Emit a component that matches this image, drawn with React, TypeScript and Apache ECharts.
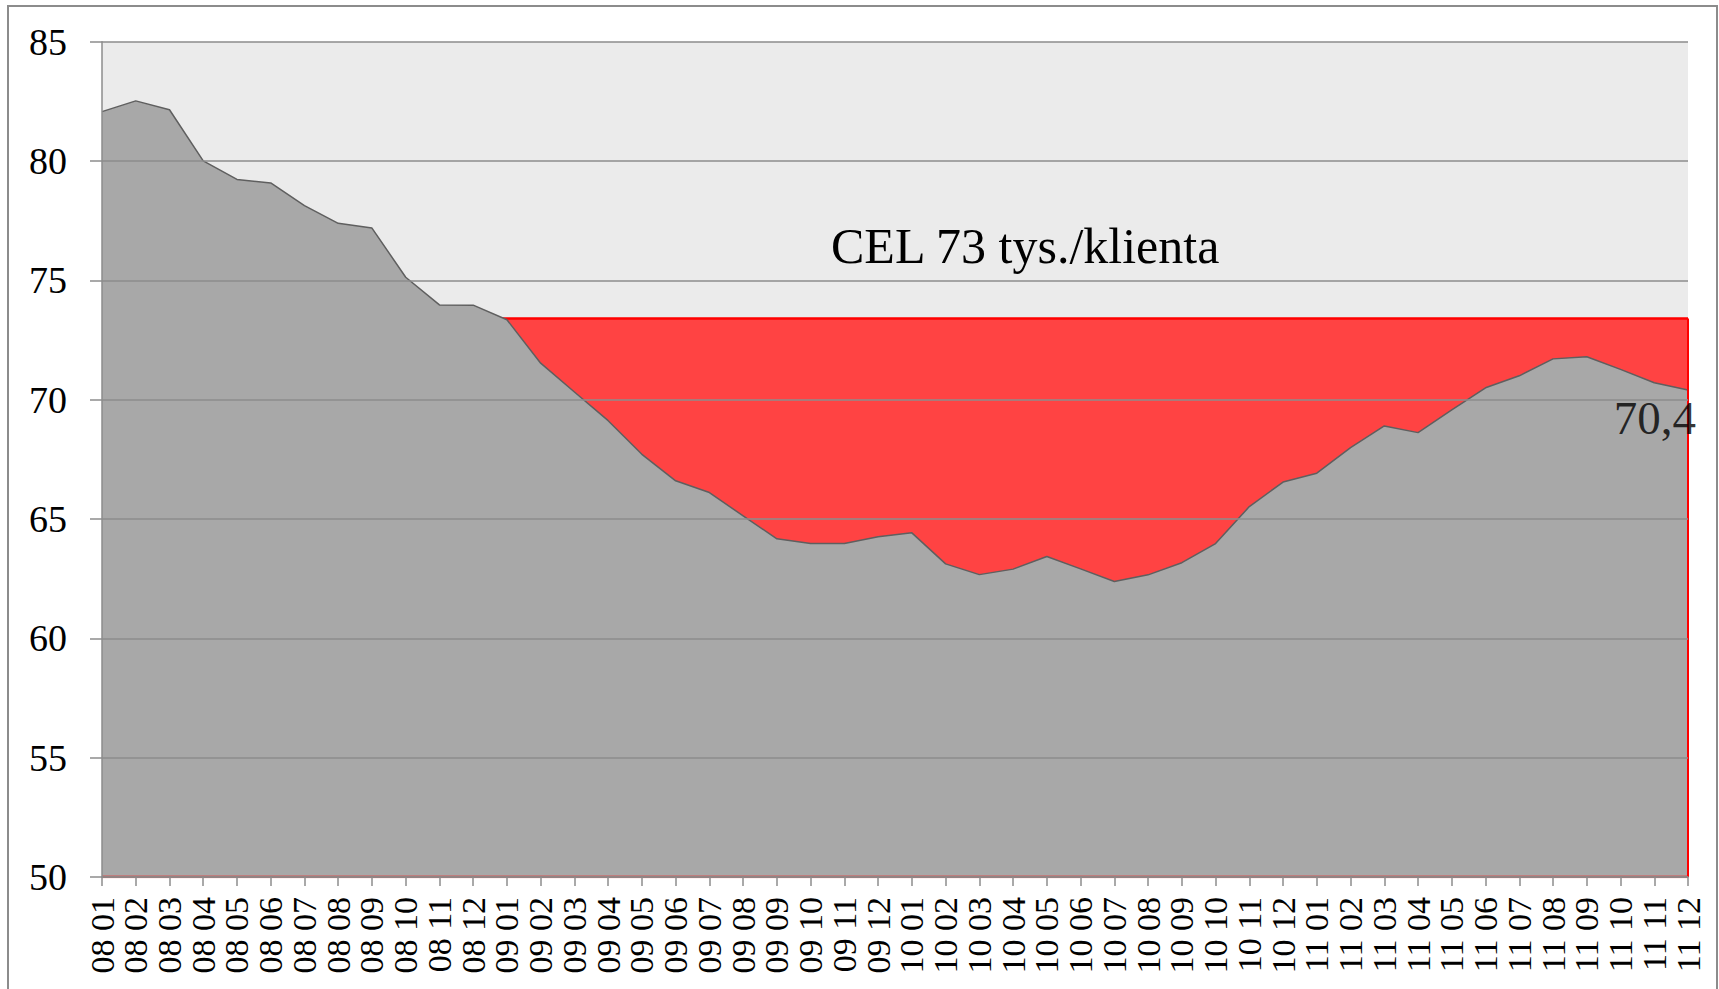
import React, { useEffect, useRef } from "react";
import * as echarts from "echarts";

const categories: string[] = [
  "08 01", "08 02", "08 03", "08 04", "08 05", "08 06", "08 07", "08 08", "08 09", "08 10", "08 11", "08 12",
  "09 01", "09 02", "09 03", "09 04", "09 05", "09 06", "09 07", "09 08", "09 09", "09 10", "09 11", "09 12",
  "10 01", "10 02", "10 03", "10 04", "10 05", "10 06", "10 07", "10 08", "10 09", "10 10", "10 11", "10 12",
  "11 01", "11 02", "11 03", "11 04", "11 05", "11 06", "11 07", "11 08", "11 09", "11 10", "11 11", "11 12",
];

const values: number[] = [
  82.07, 82.52, 82.15, 80.01, 79.23, 79.08, 78.13, 77.39, 77.19, 75.13, 73.97, 73.96,
  73.35, 71.53, 70.32, 69.12, 67.71, 66.6, 66.11, 65.13, 64.17, 63.97, 63.97, 64.26,
  64.42, 63.12, 62.67, 62.9, 63.43, 62.91, 62.38, 62.66, 63.17, 63.97, 65.52, 66.55,
  66.92, 67.99, 68.9, 68.62, 69.57, 70.5, 71.0, 71.71, 71.8, 71.27, 70.71, 70.41,
];

const targetValue = 73.4;
const targetLabel = "CEL 73 tys./klienta";
const yMin = 50;
const yMax = 85;
const yInterval = 5;

const FONT = "'Liberation Serif', 'Times New Roman', serif";

export default function App() {
  const ref = useRef<HTMLDivElement>(null);

  useEffect(() => {
    if (!ref.current) return;
    const chart = echarts.init(ref.current, undefined, { renderer: "svg" });
    const lastIdx = categories.length - 1;
    const targetData = categories.map(() => targetValue);
    const baseData = categories.map(() => yMin);

    chart.setOption({
      animation: false,
      backgroundColor: "#ffffff",
      title: {
        text: targetLabel,
        left: 826,
        top: 216,
        textStyle: { fontFamily: FONT, fontSize: 50, fontWeight: "normal", color: "#000" },
      },
      graphic: [
        {
          type: "rect",
          shape: { x: 8, y: 6, width: 1709, height: 1000 },
          style: { fill: "none", stroke: "#8c8c8c", lineWidth: 2 },
          z: 100,
        },
      ],
      grid: {
        left: 102,
        right: 31,
        top: 41.7,
        bottom: 112,
        show: true,
        backgroundColor: "#ebebeb",
        borderWidth: 0,
      },
      xAxis: {
        type: "category",
        data: categories,
        boundaryGap: false,
        z: 5,
        axisLine: { show: true, lineStyle: { color: "#8c8c8c", width: 1.5 } },
        axisTick: { show: true, interval: 0, length: 9, lineStyle: { color: "#8c8c8c", width: 1.5 } },
        axisLabel: {
          interval: 0,
          rotate: 90,
          margin: 20,
          fontFamily: FONT,
          fontSize: 34,
          color: "#000",
        },
        splitLine: { show: false },
      },
      yAxis: {
        type: "value",
        min: yMin,
        max: yMax,
        interval: yInterval,
        z: 5,
        axisLine: { show: true, lineStyle: { color: "#8c8c8c", width: 1.5 } },
        axisTick: { show: true, length: 12, lineStyle: { color: "#8c8c8c", width: 1.5 } },
        axisLabel: { margin: 35, fontFamily: FONT, fontSize: 38, color: "#000" },
        splitLine: { show: true, lineStyle: { color: "#8c8c8c", width: 1.5 } },
      },
      series: [
        {
          type: "line",
          data: targetData,
          symbol: "none",
          lineStyle: { color: "#ff0000", width: 2.5 },
          areaStyle: { color: "#ff4343", opacity: 1 },
          z: 2,
        },
        {
          type: "line",
          data: values,
          symbol: "none",
          lineStyle: { color: "#5f5f5f", width: 1.5 },
          areaStyle: { color: "#a8a8a8", opacity: 1 },
          z: 3,
          emphasis: { disabled: true },
        },
        {
          type: "line",
          data: [
            [lastIdx, targetValue],
            [lastIdx, yMin],
          ],
          symbol: "none",
          lineStyle: { color: "#ff0000", width: 2 },
          z: 4,
        },
        {
          type: "line",
          data: baseData,
          symbol: "none",
          lineStyle: { color: "#ff0000", width: 2.5 },
          z: 4,
        },
        {
          type: "scatter",
          data: [[lastIdx, values[lastIdx]]],
          symbolSize: 0,
          z: 6,
          label: {
            show: true,
            position: "bottom",
            distance: 5,
            align: "right",
            offset: [8, 0],
            fontFamily: FONT,
            fontSize: 47,
            color: "#000",
            formatter: (p: any) => Number(p.value[1]).toFixed(1).replace(".", ","),
          },
        },
      ],
    });

    return () => chart.dispose();
  }, []);

  return (
    <div
      ref={ref}
      style={{ position: "absolute", left: 0, top: 0, width: 1719, height: 989 }}
    />
  );
}
